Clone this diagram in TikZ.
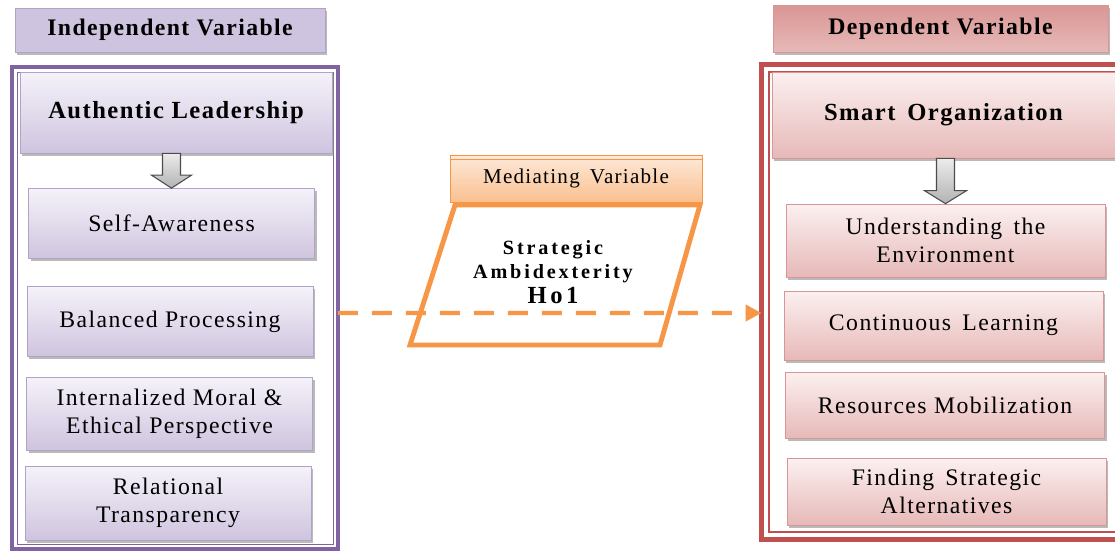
\documentclass[tikz,border=0pt]{standalone}
\usepackage{fontspec}
\setmainfont{Liberation Serif}
\newfontfamily\spaced[LetterSpace=6]{Liberation Serif}
\newfontfamily\widespaced[LetterSpace=14]{Liberation Serif}
\usetikzlibrary{shapes.geometric,arrows.meta,positioning,shadows,calc}

\definecolor{purpframe}{HTML}{8064A2}
\definecolor{lavedge}{HTML}{B3A2C7}
\definecolor{lavlight}{HTML}{F5F2F9}
\definecolor{lavdark}{HTML}{CFC4DF}
\definecolor{redframe}{HTML}{C0504D}
\definecolor{pinkedge}{HTML}{D99694}
\definecolor{pinklight}{HTML}{FCF0F0}
\definecolor{pinkdark}{HTML}{E6B9B8}
\definecolor{orangeline}{HTML}{F79646}
\definecolor{orangelight}{HTML}{FDE9D9}
\definecolor{orangemid}{HTML}{FAC090}

\begin{document}
\begin{tikzpicture}[
    x=0.02cm, y=-0.02cm,
    myshadow/.style={drop shadow={shadow xshift=1.2pt, shadow yshift=-1.5pt, fill=black!45, opacity=0.6}},
    headL/.style={rectangle, draw=lavedge, top color=lavdark, middle color=lavlight, bottom color=lavdark, minimum width=6.2cm, minimum height=0.88cm, font={\spaced\bfseries\fontsize{13.5}{15}\selectfont}, myshadow},
    headR/.style={rectangle, draw=pinkedge, top color=pinkedge, middle color=pinklight, bottom color=pinkdark, minimum width=6.7cm, minimum height=0.94cm, font={\spaced\bfseries\fontsize{13.5}{15}\selectfont}, myshadow},
    titleL/.style={rectangle, draw=lavedge, top color=lavlight, bottom color=lavdark, minimum width=6.24cm, minimum height=1.62cm, font={\spaced\bfseries\fontsize{14}{16}\selectfont}, myshadow},
    titleR/.style={rectangle, draw=pinkedge, top color=pinklight, bottom color=pinkdark, minimum width=6.86cm, minimum height=1.72cm, font={\spaced\bfseries\fontsize{14}{16}\selectfont}, myshadow},
    itemL/.style={rectangle, draw=lavedge, top color=lavlight, bottom color=lavdark, minimum width=5.72cm, minimum height=1.4cm, align=center, font={\spaced\fontsize{13.5}{16}\selectfont}, myshadow},
    itemR/.style={rectangle, draw=pinkedge, top color=pinklight, bottom color=pinkdark, minimum width=6.38cm, minimum height=1.38cm, align=center, font={\spaced\fontsize{13.5}{16}\selectfont}, myshadow},
    frameL/.style={rectangle, draw=purpframe, line width=2.2pt, minimum width=6.52cm, minimum height=9.64cm, inner sep=0pt, outer sep=0pt},
    frameR/.style={rectangle, draw=redframe, line width=2.6pt, minimum width=7.27cm, minimum height=9.5cm, inner sep=0pt, outer sep=0pt},
    medhead/.style={rectangle, draw=orangeline, top color=orangelight, bottom color=orangemid, minimum width=5.04cm, minimum height=0.94cm, font={\spaced\fontsize{12}{14}\selectfont}},
    medtext/.style={align=center, font={\widespaced\bfseries\fontsize{11.5}{14}\selectfont}},
    medline/.style={draw=orangeline, line width=2.8pt, line join=miter},
    blockarrow/.style={top color=gray!15, bottom color=gray!60, draw=gray!60!black, line width=0.6pt},
    dasharrow/.style={draw=orangeline, line width=2.3pt, dash pattern=on 0.4cm off 0.28cm, -{Triangle[length=0.32cm, width=0.32cm]}}
]
\useasboundingbox (0,0) rectangle (1115,551);

% independent side
\node[headL] (indep) at (170,30) {Independent Variable};
\node[frameL] (frL) at (175,308) {};
\draw[purpframe, line width=0.5pt] ([shift={(0.1cm,-0.1cm)}]frL.north west) rectangle ([shift={(-0.1cm,0.1cm)}]frL.south east);
\node[titleL] (authl) at (176,112.5) {Authentic Leadership};
\node[itemL] (selfaw) at (171.5,223.5) {Self-Awareness};
\node[itemL] (balpro) at (170,321.5) {Balanced Processing};
\node[itemL, minimum height=1.46cm] (moral) at (169.5,413.5) {Internalized Moral \&\\Ethical Perspective};
\node[itemL, minimum height=1.48cm] (reltra) at (168,503) {Relational\\Transparency};

% dependent side
\node[headR] (dep) at (940.5,28.5) {Dependent Variable};
\node[frameR] (frR) at (943.25,302) {};
\draw[redframe, line width=0.7pt] ([shift={(0.15cm,-0.15cm)}]frR.north west) rectangle ([shift={(-0.15cm,0.15cm)}]frR.south east);
\node[titleR] (smart) at (943.5,115) {Smart\, Organization};
\node[itemR, minimum height=1.46cm] (underst) at (945.5,240.5) {Understanding\, the\\Environment};
\node[itemR] (contle) at (943.5,325.5) {Continuous\, Learning};
\node[itemR, minimum height=1.32cm] (resmob) at (945,405) {Resources Mobilization};
\node[itemR, minimum height=1.34cm] (findsa) at (946.5,491.5) {Finding\, Strategic\\Alternatives};

% mediating variable
\node[medhead] (medh) at (576,178.5) {Mediating\, Variable};
\draw[orangeline, line width=0.6pt] ([yshift=-0.1cm]medh.north west) -- ([yshift=-0.1cm]medh.north east);
\node[medtext] (strat) at (553,272) {Strategic\\Ambidexterity\\{\fontsize{14}{16}\selectfont Ho1}};
\draw[medline] (410,345) -- (455,205) -- (700,205) -- (660,345) -- cycle;

% block arrows
\shadedraw[blockarrow] ($(selfaw.north |- authl.south)+(-0.18cm,0)$) -- ($(selfaw.north)+(-0.18cm,0.26cm)$) -- ($(selfaw.north)+(-0.4cm,0.26cm)$) -- (selfaw.north) -- ($(selfaw.north)+(0.4cm,0.26cm)$) -- ($(selfaw.north)+(0.18cm,0.26cm)$) -- ($(selfaw.north |- authl.south)+(0.18cm,0)$) -- cycle;
\shadedraw[blockarrow] ($(underst.north |- smart.south)+(-0.18cm,0)$) -- ($(underst.north)+(-0.18cm,0.26cm)$) -- ($(underst.north)+(-0.42cm,0.26cm)$) -- (underst.north) -- ($(underst.north)+(0.42cm,0.26cm)$) -- ($(underst.north)+(0.18cm,0.26cm)$) -- ($(underst.north |- smart.south)+(0.18cm,0)$) -- cycle;

% dashed link
\draw[dasharrow] ([yshift=-0.1cm]frL.east) -- ([yshift=-0.22cm]frR.west);
\end{tikzpicture}
\end{document}
